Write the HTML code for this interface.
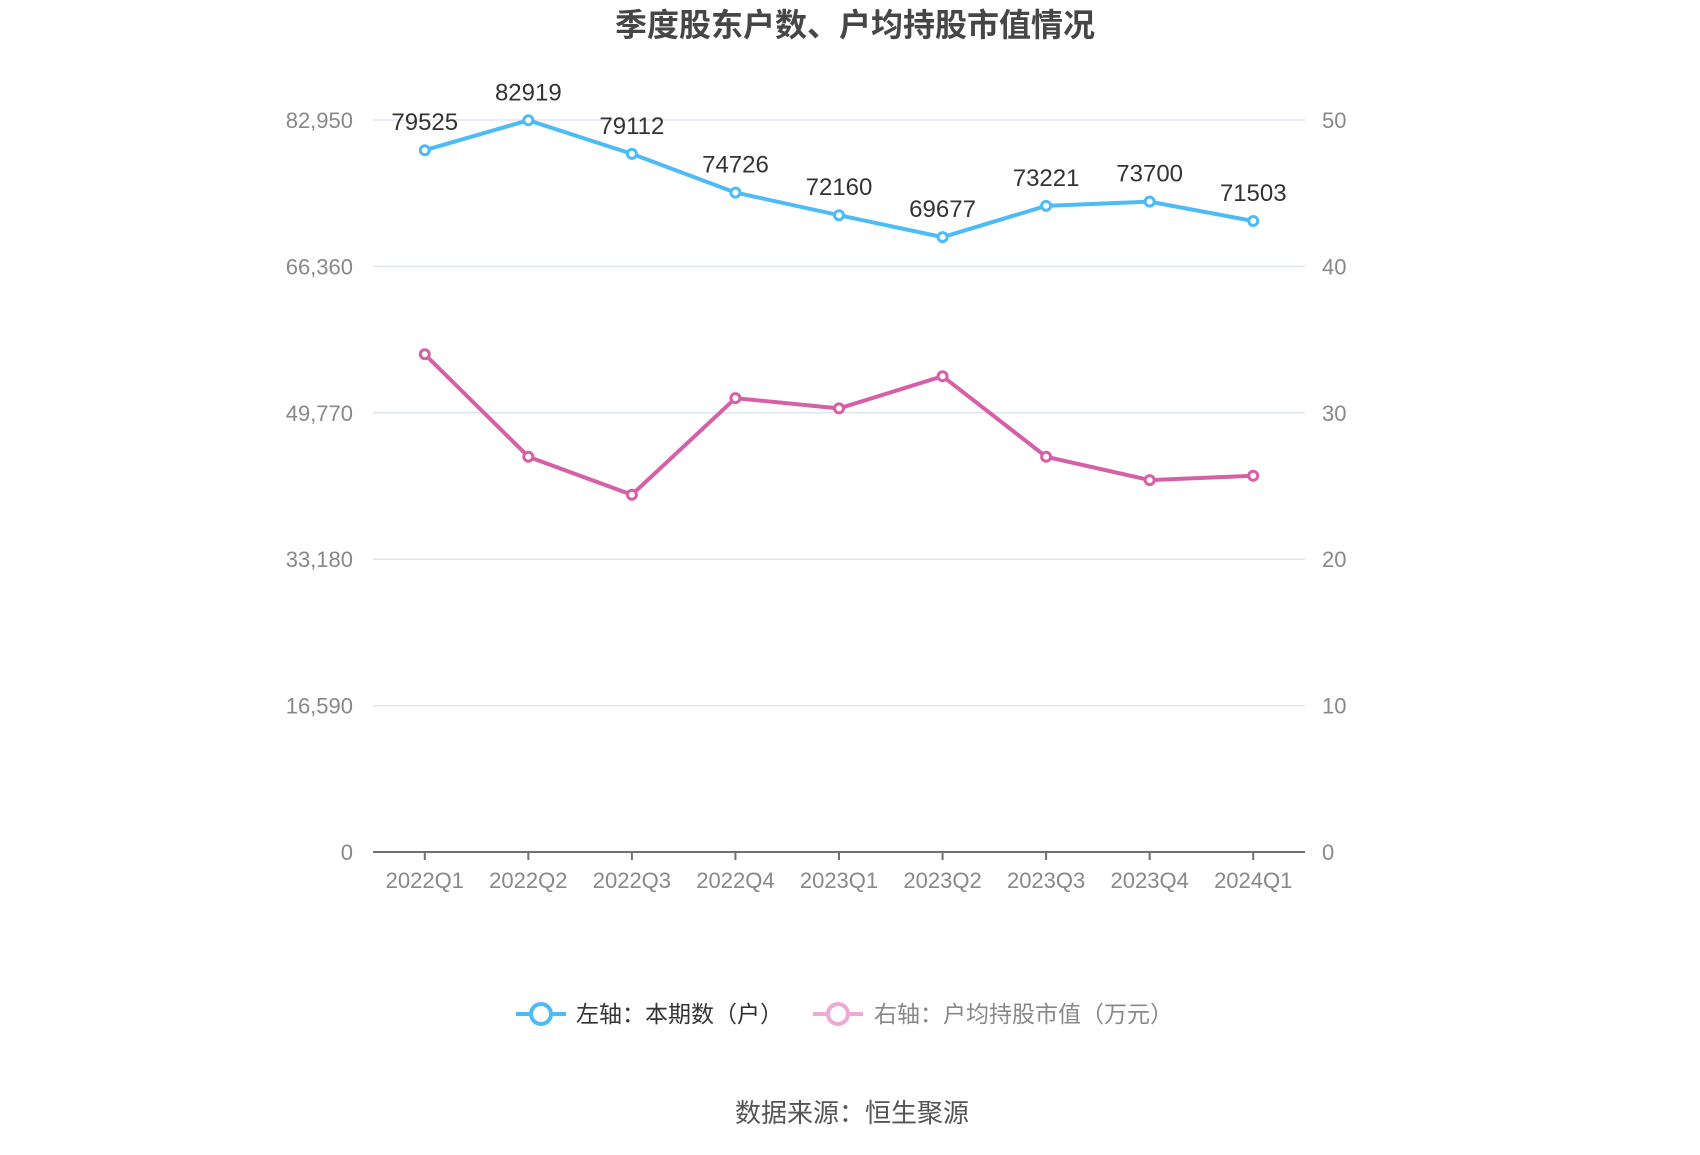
<!DOCTYPE html>
<html><head><meta charset="utf-8"><style>
body{margin:0;background:#fff;}
svg text{font-family:"Liberation Sans","Noto Sans CJK SC",sans-serif;}
</style></head><body>
<svg id="chart" width="1700" height="1150" xmlns="http://www.w3.org/2000/svg">
<text x="855" y="36" text-anchor="middle" font-size="32" font-weight="bold" fill="#464646">季度股东户数、户均持股市值情况</text>
<g id="grid"></g><g id="axes"></g><g id="series"></g>
<g>
<g>
<line x1="516" y1="1014" x2="566" y2="1014" stroke="#4dbbf5" stroke-width="4"/>
<circle cx="541" cy="1014" r="10" fill="#fff" stroke="#4dbbf5" stroke-width="4"/>
<text x="576" y="1022" font-size="23" fill="#333">左轴：本期数（户）</text></g>
<g>
<line x1="813" y1="1014" x2="863" y2="1014" stroke="#eeaad2" stroke-width="4"/>
<circle cx="838" cy="1014" r="10" fill="#fff" stroke="#eeaad2" stroke-width="4"/>
<text x="874" y="1022" font-size="23" fill="#888">右轴：户均持股市值（万元）</text></g>
</g>
<text x="852" y="1122" text-anchor="middle" font-size="26" fill="#555">数据来源：恒生聚源</text>
</svg>
<script>
const categories=["2022Q1","2022Q2","2022Q3","2022Q4","2023Q1","2023Q2","2023Q3","2023Q4","2024Q1"];
const holders=[79525,82919,79112,74726,72160,69677,73221,73700,71503];
const avgValue=[34.0,27.0,24.4,31.0,30.3,32.5,27.0,25.4,25.7];
const leftTicks=[0,16590,33180,49770,66360,82950];
const leftTickLabels=["0","16,590","33,180","49,770","66,360","82,950"];
const rightTicks=[0,10,20,30,40,50];
const NS="http://www.w3.org/2000/svg";
const X0=373,X1=1305,Y0=852,Y1=120;
const step=(X1-X0)/categories.length;
const xAt=i=>X0+step*(i+0.5);
const yL=v=>Y0-(v/82950)*(Y0-Y1);
const yR=v=>Y0-(v/50)*(Y0-Y1);
function mk(tag,attrs,parent,txt){const e=document.createElementNS(NS,tag);for(const k in attrs)e.setAttribute(k,attrs[k]);if(txt!==undefined)e.textContent=txt;parent.appendChild(e);return e;}
const grid=document.getElementById('grid'),axes=document.getElementById('axes'),series=document.getElementById('series');
leftTicks.forEach((t,i)=>{
 const y=yL(t);
 if(i>0){const g=mk('line',{x1:X0,x2:X1,y1:y,y2:y,stroke:'#e0e6f1','stroke-width':1.5},grid);
 
 }
 const l=mk('text',{x:353,y:y+8,'text-anchor':'end','font-size':22,fill:'#888'},axes,leftTickLabels[i]);
 
 
});
rightTicks.forEach(t=>{
 const r=mk('text',{x:1322,y:yR(t)+8,'font-size':22,fill:'#888'},axes,String(t));
 
 
});
const ax=mk('line',{x1:X0,x2:X1,y1:Y0,y2:Y0,stroke:'#6e7079','stroke-width':2},axes);


categories.forEach((c,i)=>{
 const x=xAt(i);
 mk('line',{x1:x,x2:x,y1:Y0,y2:Y0+8,stroke:'#6e7079','stroke-width':2},axes);
 const t=mk('text',{x:x,y:888,'text-anchor':'middle','font-size':22,fill:'#888'},axes,c);
 
 
});
function drawLine(vals,yf,color,name,labels){
 const p=mk('polyline',{points:vals.map((v,i)=>xAt(i)+','+yf(v)).join(' '),fill:'none',stroke:color,'stroke-width':4},series);
 
 
 vals.forEach((v,i)=>{
  const c=mk('circle',{cx:xAt(i),cy:yf(v),r:4.5,fill:'#fff',stroke:color,'stroke-width':3},series);
  
  
  if(labels){const t=mk('text',{x:xAt(i),y:yf(v)-20,'text-anchor':'middle','font-size':24,fill:'#333'},series,String(v));
  
  }
 });
}
drawLine(avgValue,yR,'#d660a8','avg-value',false);
drawLine(holders,yL,'#4dbbf5','holders',true);
</script>
</body></html>
